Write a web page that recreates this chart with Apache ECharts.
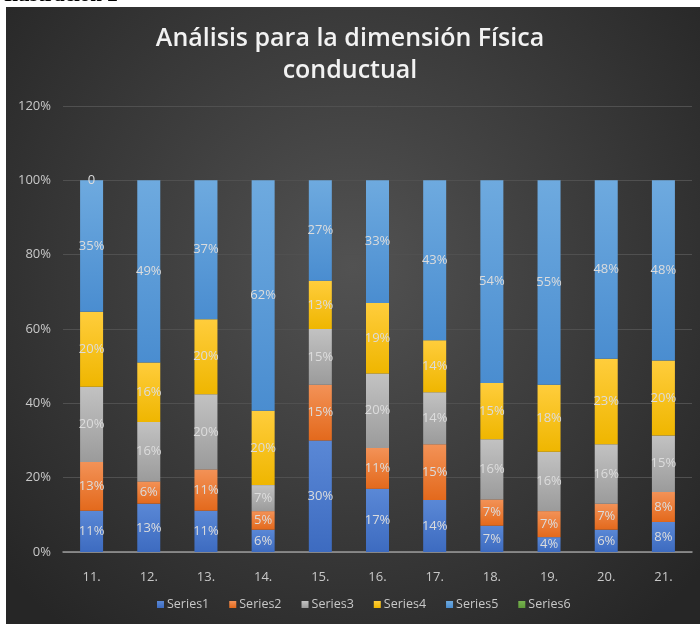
<!DOCTYPE html>
<html>
<head>
<meta charset="utf-8">
<script src="https://cdn.jsdelivr.net/npm/echarts@6/dist/echarts.min.js"></script>
<style>
  html, body { margin: 0; padding: 0; background: #fff; }
  #chart { width: 700px; height: 624px; }
</style>
</head>
<body>
<div id="chart"></div>
<script>
// items (x axis)
const categories = ['11.', '12.', '13.', '14.', '15.', '16.', '17.', '18.', '19.', '20.', '21.'];

// percent labels
const series1 = [11, 13, 11, 6, 30, 17, 14, 7, 4, 6, 8];
const series2 = [13, 6, 11, 5, 15, 11, 15, 7, 7, 7, 8];
const series3 = [20, 16, 20, 7, 15, 20, 14, 16, 16, 16, 15];
const series4 = [20, 16, 20, 20, 13, 19, 14, 15, 18, 23, 20];
const series5 = [35, 49, 37, 62, 27, 33, 43, 54, 55, 48, 48];
const series6 = [0, null, null, null, null, null, null, null, null, null, null];

const yTicks = [0, 0.2, 0.4, 0.6, 0.8, 1.0, 1.2];

const allSeries = [series1, series2, series3, series4, series5];
// 100% stacked: each column is scaled to its own total
const totals = categories.map((c, i) => allSeries.reduce((s, arr) => s + arr[i], 0));

const colors = [
  ['#5a88d6', '#3d6bc0'],
  ['#f39257', '#e3691c'],
  ['#c2c2c2', '#9b9b9b'],
  ['#ffcd3c', '#efb600'],
  ['#6eaadf', '#4a8dd0'],
  ['#78b34f', '#5f9a3a']
];
const legendColors = ['#4472c4', '#ed7d31', '#a5a5a5', '#ffc000', '#5b9bd5', '#70ad47'];

function grad(c) {
  return new echarts.graphic.LinearGradient(0, 0, 0, 1, [
    { offset: 0, color: c[0] },
    { offset: 1, color: c[1] }
  ]);
}

const chart = echarts.init(document.getElementById('chart'));

const barSeries = allSeries.map((arr, k) => ({
  name: 'Series' + (k + 1),
  type: 'bar',
  stack: 'total',
  barWidth: 23,
  itemStyle: { color: grad(colors[k]) },
  label: {
    show: true,
    position: 'inside',
    color: '#dcdcdc',
    fontFamily: 'Open Sans',
    fontSize: 13,
    formatter: p => arr[p.dataIndex] + '%'
  },
  data: arr.map((v, i) => v / totals[i])
}));

barSeries.push({
  name: 'Series6',
  type: 'bar',
  stack: 'total',
  stackStrategy: 'all',
  barWidth: 23,
  itemStyle: { color: grad(colors[5]) },
  label: {
    show: true,
    position: 'inside',
    color: '#dcdcdc',
    fontFamily: 'Open Sans',
    fontSize: 13,
    formatter: '0'
  },
  data: series6
});

chart.setOption({
  backgroundColor: '#ffffff',
  animation: false,
  color: legendColors,
  graphic: [
    {
      type: 'rect',
      z: -10,
      shape: { x: 6, y: 7, width: 694, height: 617 },
      style: {
        fill: new echarts.graphic.RadialGradient(0.5, 0.42, 0.75, [
          { offset: 0, color: '#525252' },
          { offset: 1, color: '#262626' }
        ])
      }
    },
    {
      type: 'text',
      left: 4,
      top: -15,
      style: {
        text: 'Ilustración 2',
        fill: '#000',
        font: 'bold 21px "Liberation Serif"'
      }
    }
  ],
  title: {
    text: 'Análisis para la dimensión Física\nconductual',
    left: 'center',
    top: 18,
    textStyle: {
      color: '#f2f2f2',
      fontFamily: 'Open Sans',
      fontWeight: 600,
      fontSize: 25,
      lineHeight: 32
    }
  },
  legend: {
    bottom: 8,
    left: 152,
    itemWidth: 7,
    itemHeight: 7,
    itemGap: 20,
    icon: 'rect',
    textStyle: { color: '#c8c8c8', fontFamily: 'Open Sans', fontSize: 12.5, padding: [0, 0, 0, -2] },
    data: ['Series1', 'Series2', 'Series3', 'Series4', 'Series5', 'Series6']
  },
  grid: { left: 63, right: 8, top: 106, bottom: 72 },
  xAxis: {
    type: 'category',
    data: categories,
    axisLine: { lineStyle: { color: '#9a9a9a', width: 1.5 } },
    axisTick: { show: false },
    axisLabel: { color: '#c8c8c8', fontFamily: 'Open Sans', fontSize: 13, margin: 19 }
  },
  yAxis: {
    type: 'value',
    min: 0,
    max: 1.2,
    interval: 0.2,
    axisLine: { show: false },
    axisTick: { show: false },
    splitLine: { lineStyle: { color: '#505050' } },
    axisLabel: {
      color: '#c8c8c8',
      fontFamily: 'Open Sans',
      fontSize: 13,
      margin: 12,
      formatter: v => Math.round(v * 100) + '%'
    }
  },
  series: barSeries
});

window.onresize = function () {
  chart.resize();
};
</script>
</body>
</html>
